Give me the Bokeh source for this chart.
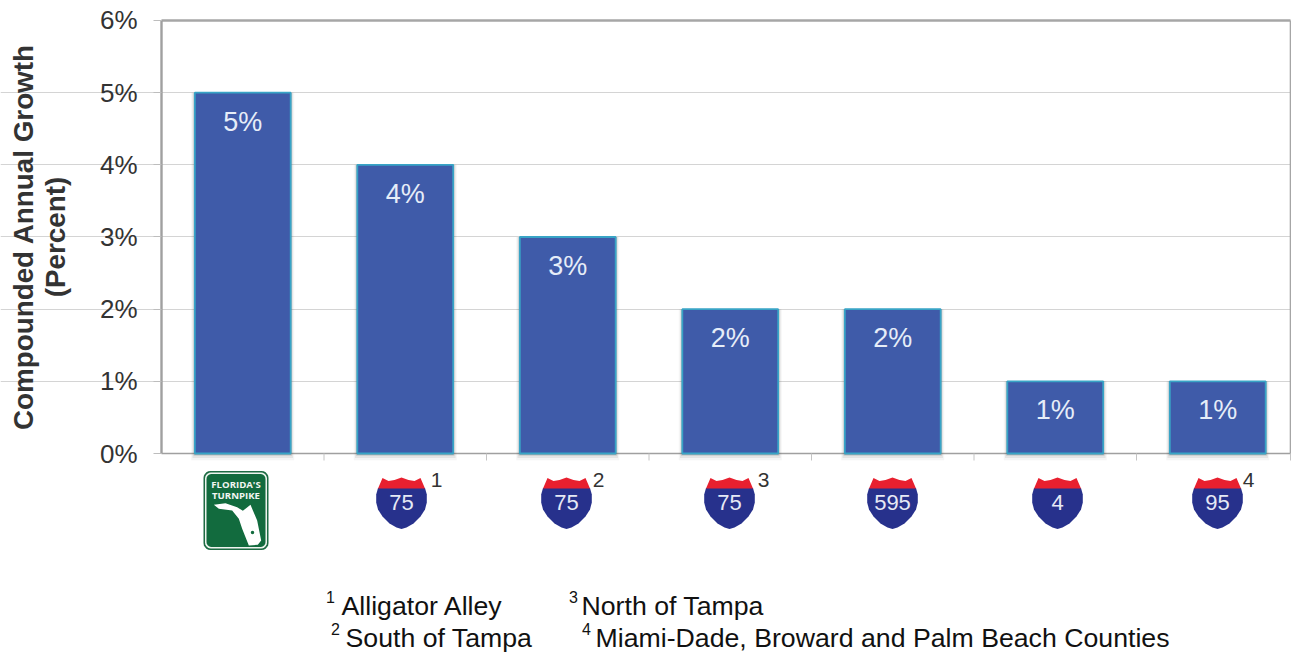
from bokeh.plotting import figure
from bokeh.models import Label, Range1d, FixedTicker
from bokeh.embed import file_html
from bokeh.resources import INLINE
import numpy as np

growth = [5, 4, 3, 2, 2, 1, 1]
bar_labels = ["5%", "4%", "3%", "2%", "2%", "1%", "1%"]
y_ticks = [0, 1, 2, 3, 4, 5, 6]
y_tick_labels = ["0%", "1%", "2%", "3%", "4%", "5%", "6%"]
routes = ["75", "75", "75", "595", "4", "95"]
route_marks = ["1", "2", "3", "", "", "4"]
notes = ["Alligator Alley", "South of Tampa", "North of Tampa",
         "Miami-Dade, Broward and Palm Beach Counties"]
note_marks = ["1", "2", "3", "4"]

FONT = "Liberation Sans"
PX_X, PX_Y = 162.5, 72.17
LEFT, ZERO = 161, 453
def X(px): return (px - LEFT) / PX_X
def Y(py): return (ZERO - py) / PX_Y

W, H = 1291, 652
p = figure(width=W, height=H, output_backend="svg", toolbar_location=None,
           x_range=Range1d(X(0), X(W)), y_range=Range1d(Y(H), Y(0)),
           min_border_left=0, min_border_right=0, min_border_top=0, min_border_bottom=0)
p.outline_line_color = None
p.background_fill_color = "white"
p.xgrid.visible = False
p.ygrid.grid_line_color = "#d4d4d4"
p.ygrid.grid_line_width = 1.2
p.ygrid.ticker = FixedTicker(ticks=y_ticks[1:-1])
p.ygrid.bounds = (0, X(W))

# y axis drawn at x = 0 of the bar scale
ya = p.yaxis[0]
ya.fixed_location = 0
ya.ticker = FixedTicker(ticks=y_ticks)
ya.bounds = (0, 6)
ya.major_label_overrides = {t: s for t, s in zip(y_ticks, y_tick_labels)}
ya.major_label_text_font = FONT
ya.major_label_text_font_size = "26px"
ya.major_label_text_color = "#333333"
ya.major_label_standoff = 16
ya.axis_line_color = "#a0a0a0"
ya.axis_line_width = 2.4
ya.major_tick_line_color = "#bdbdbd"
ya.major_tick_line_width = 1.2
ya.major_tick_out = 8
ya.major_tick_in = 0
ya.minor_tick_line_color = None

p.xaxis[0].visible = False
edge = X(W - 1)
# zero line, its ticks, top border and right border
p.segment([0], [0], [edge], [0], line_color="#a0a0a0", line_width=1.6)
ticks = list(range(1, 7)) + [edge]
p.segment(ticks, [0] * 7, ticks, [Y(ZERO + 7)] * 7, line_color="#c4c4c4", line_width=1)
p.segment([0], [6], [edge], [6], line_color="#a6a6a6", line_width=2.4)
p.segment([edge], [0], [edge], [6], line_color="#a6a6a6", line_width=1.6)

centers = [i + 0.5 for i in range(len(growth))]
bw = 0.59

# soft shadows then bars
for grow, a in ((0.036, 0.05), (0.024, 0.09), (0.012, 0.16), (0.005, 0.22)):
    p.quad(left=[c - bw / 2 - grow * 0.6 for c in centers], right=[c + bw / 2 + grow * 0.6 for c in centers],
           top=growth, bottom=[-grow * 2.6] * 7, fill_color="#404040", fill_alpha=a, line_color=None)
p.vbar(x=centers, top=growth, bottom=0, width=bw, fill_color="#3f5ba9",
       line_color="#38a4c6", line_width=1.8)

for c, v, s in zip(centers, growth, bar_labels):
    p.add_layout(Label(x=c, y=v - 29 / PX_Y, text=s, text_font=FONT, text_font_size="27px",
                       text_color="#e6edf8", text_align="center", text_baseline="middle"))

# y title
for px, s in ((23, "Compounded Annual Growth"), (55, "(Percent)")):
    p.add_layout(Label(x=X(px), y=Y(236.5), text=s, angle=np.pi / 2, text_font=FONT,
                       text_font_size="27.8px", text_font_style="bold", text_color="#333333",
                       text_align="center", text_baseline="middle"))

# Florida's Turnpike sign
def rrect(x0, x1, y0, y1, r):
    xs, ys = [], []
    for cx, cy, a0 in ((x1 - r, y0 + r, -90), (x1 - r, y1 - r, 0), (x0 + r, y1 - r, 90), (x0 + r, y0 + r, 180)):
        for a in np.radians(np.linspace(a0, a0 + 90, 6)):
            xs.append(cx + r * np.cos(a))
            ys.append(cy + r * np.sin(a))
    return [X(v) for v in xs], [Y(v) for v in ys]

for box, col in (((203, 268, 470.5, 549.5, 7), "#1d6b43"), ((204.5, 266.5, 472, 548, 6), "#eef4ef"),
                 ((206, 265, 473.5, 546.5, 5), "#126b3e")):
    xs, ys = rrect(*box)
    p.patch(xs, ys, fill_color=col, line_color=None)

fl = [(55, 118), (90, 113), (125, 125), (142, 136), (165, 118), (185, 165), (197, 225), (187, 238),
      (160, 240), (140, 190), (130, 160), (110, 135), (70, 130)]
p.patch([X(195 + a / 3) for a, b in fl], [Y(465 + b / 3) for a, b in fl], fill_color="white", line_color=None)
p.scatter([X(252)], [Y(532)], size=3.5, fill_color="#126b3e", line_color=None)
for py, s in ((484, "FLORIDA'S"), (495, "TURNPIKE")):
    p.add_layout(Label(x=X(235.5), y=Y(py), text=s, text_font="Open Sans", text_font_size="9.6px",
                       text_font_style="bold", text_color="#f2f6f2", text_align="center", text_baseline="middle"))

# Interstate shields
shield_x = [401, 566, 729, 892, 1057, 1217]
mark_x = [436, 598, 763, 0, 0, 1248]
red = [(-23.5, 488), (-19, 477.5), (-13, 480.5), (-7, 479.5), (0, 477), (7, 479.5), (13, 480.5), (19, 477.5), (23.5, 488)]
blue = [(-23.5, 487.5), (-25.3, 494), (-25.3, 502), (-23.5, 509), (-19, 516), (-12, 523), (-5, 527), (0, 528.5),
        (5, 527), (12, 523), (19, 516), (23.5, 509), (25.3, 502), (25.3, 494), (23.5, 487.5)]
for cx, r, m, mx in zip(shield_x, routes, route_marks, mark_x):
    p.patch([X(cx + a) for a, b in blue], [Y(b) for a, b in blue], fill_color="#27318c", line_color=None)
    p.patch([X(cx + a) for a, b in red], [Y(b) for a, b in red], fill_color="#e8202f", line_color=None)
    p.add_layout(Label(x=X(cx), y=Y(502), text=r, text_font=FONT, text_font_size="22px",
                       text_color="#e6e9f5", text_align="center", text_baseline="middle"))
    if m:
        p.add_layout(Label(x=X(mx), y=Y(479), text=m, text_font=FONT, text_font_size="21px",
                           text_color="#333333", text_align="center", text_baseline="middle"))

# Footnotes
note_pos = [(341, 605), (345, 637), (581, 605), (595, 637)]
mark_pos = [(330, 596), (335, 628), (573, 596), (586, 628)]
for (nx, ny), s in zip(note_pos, notes):
    p.add_layout(Label(x=X(nx), y=Y(ny), text=s, text_font=FONT, text_font_size="26.7px",
                       text_color="#111111", text_align="left", text_baseline="middle"))
for (mx, my), s in zip(mark_pos, note_marks):
    p.add_layout(Label(x=X(mx), y=Y(my), text=s, text_font=FONT, text_font_size="16px",
                       text_color="#111111", text_align="center", text_baseline="middle"))

open("out.html", "w").write(file_html(p, INLINE))
